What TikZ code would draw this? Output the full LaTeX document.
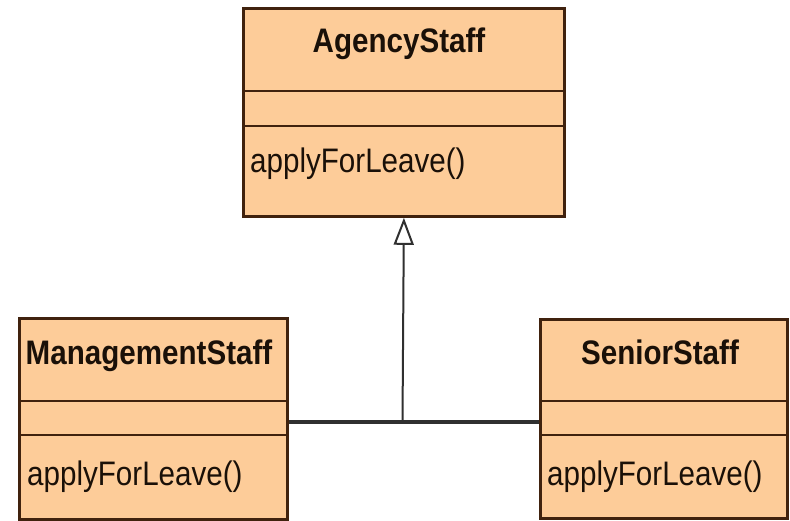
\documentclass[tikz,border=0pt]{standalone}
\usepackage{fontspec}
\setmainfont[FakeStretch=0.87]{Liberation Sans}
\usetikzlibrary{arrows.meta}
\definecolor{classfill}{RGB}{253,204,153}
\definecolor{classline}{RGB}{64,34,14}
\definecolor{linkline}{RGB}{48,48,48}
\definecolor{ink}{RGB}{26,16,8}
\tikzset{
  classbox/.style={draw=classline, fill=classfill, line width=2.8pt,
    anchor=north west, inner sep=0pt},
  divider/.style={draw=classline, line width=2.6pt},
  classname/.style={anchor=base, inner sep=0pt, text=ink,
    font=\fontsize{34}{37}\selectfont\bfseries},
  opname/.style={anchor=base west, inner sep=0pt, text=ink,
    font=\fontsize{34}{37}\selectfont},
  link/.style={draw=linkline, line width=3.2pt},
  inherit/.style={draw=linkline, line width=2pt,
    -{Triangle[open, length=27pt, width=20pt, line width=2pt]}}
}
\begin{document}
\begin{tikzpicture}[x=1pt, y=-1pt]
  \fill[white] (0,0) rectangle (790,521);
  \useasboundingbox (0,0) rectangle (790,521);

  % AgencyStaff
  \node[classbox, minimum width=321pt, minimum height=208pt] (agency) at (242,7) {};
  \draw[divider] (242,91) -- (563,91);
  \draw[divider] (242,126) -- (563,126);
  \node[classname] (agencyname) at (399,53) {AgencyStaff};
  \node[opname] (agencyop) at (250,173) {applyForLeave()};

  % ManagementStaff
  \node[classbox, minimum width=268pt, minimum height=201pt] (mgmt) at (18,317) {};
  \draw[divider] (18,401) -- (286,401);
  \draw[divider] (18,435) -- (286,435);
  \node[classname] (mgmtname) at (149,365) {ManagementStaff};
  \node[opname] (mgmtop) at (27,485) {applyForLeave()};

  % SeniorStaff
  \node[classbox, minimum width=247pt, minimum height=199pt] (senior) at (539,318) {};
  \draw[divider] (539,401) -- (786,401);
  \draw[divider] (539,435) -- (786,435);
  \node[classname] (seniorname) at (660,365) {SeniorStaff};
  \node[opname] (seniorop) at (547,485) {applyForLeave()};

  % generalisation
  \coordinate (join) at (402.5,422);
  \draw[link] (mgmt.east |- join) -- (senior.west |- join);
  \draw[inherit] (join) -- (agency.south);
\end{tikzpicture}
\end{document}
